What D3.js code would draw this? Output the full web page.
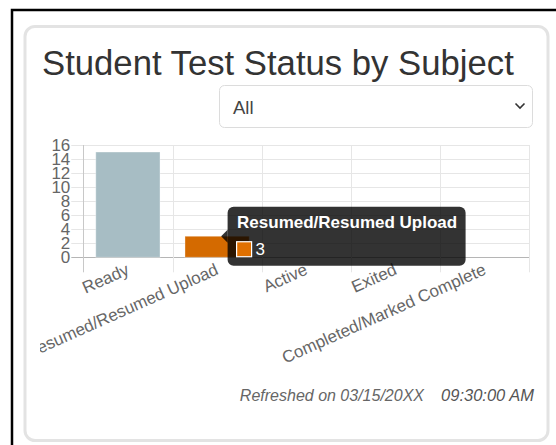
<!DOCTYPE html>
<html>
<head>
<meta charset="utf-8">
<script src="https://cdn.jsdelivr.net/npm/d3@7"></script>
<style>
  html, body { margin: 0; padding: 0; background: #fff; overflow: hidden; }
  svg { display: block; font-family: "Liberation Sans", Arial, Helvetica, sans-serif; }
</style>
</head>
<body>
<svg id="chart" width="556" height="445"></svg>
<script>
// Test status counts per category
const categories = ["Ready", "Resumed/Resumed Upload", "Active", "Exited", "Completed/Marked Complete"];
const counts = [15, 3, 0, 0, 0];
const barColors = ["#a7bdc4", "#d46a00", "#5b9bd5", "#8c8c8c", "#4caf50"];
const yTicks = [0, 2, 4, 6, 8, 10, 12, 14, 16];
const filterOptions = ["All"];
const refreshedDate = "03/15/20XX";
const refreshedTime = "09:30:00 AM";
const hoveredIndex = 1;

const svg = d3.select("#chart");

// Outer frame (top and left edges visible)
svg.append("rect")
  .attr("x", 12).attr("y", 10).attr("width", 600).attr("height", 500)
  .attr("fill", "none").attr("stroke", "#000").attr("stroke-width", 2.5);

// Card
svg.append("rect")
  .attr("x", 25).attr("y", 26.5).attr("width", 523).attr("height", 414)
  .attr("rx", 10).attr("fill", "#fff")
  .attr("stroke", "#e3e3e3").attr("stroke-width", 3);

// Title
svg.append("text")
  .attr("x", 42).attr("y", 74.5)
  .attr("fill", "#333").attr("font-size", 34.7)
  .text("Student Test Status by Subject");

// Filter select
const sel = svg.append("g");
sel.append("rect")
  .attr("x", 219.5).attr("y", 85.5).attr("width", 313).attr("height", 42)
  .attr("rx", 5).attr("fill", "#fff").attr("stroke", "#dcdcdc").attr("stroke-width", 1);
sel.append("text")
  .attr("x", 233).attr("y", 113.5)
  .attr("fill", "#444").attr("font-size", 18.5)
  .text(filterOptions[0]);
sel.append("path")
  .attr("d", "M515.5,103.5 L520,108 L524.5,103.5")
  .attr("fill", "none").attr("stroke", "#333").attr("stroke-width", 1.6);

// Chart area
const plot = { left: 83.3, right: 529.3, top: 145, bottom: 257.3 };
const x = d3.scaleBand().domain(categories).range([plot.left, plot.right]);
const xBar = d3.scaleBand().domain(categories).range([plot.left, plot.right])
  .paddingInner(0.28).paddingOuter(0.14);
const y = d3.scaleLinear().domain([0, 16]).range([plot.bottom, plot.top]);

const clip = svg.append("clipPath").attr("id", "canvasClip");
clip.append("rect").attr("x", 40).attr("y", 135).attr("width", 500).attr("height", 250);
const chart = svg.append("g").attr("clip-path", "url(#canvasClip)");

// Horizontal grid lines with tick marks
chart.append("g").selectAll("line").data(yTicks).join("line")
  .attr("x1", plot.left - 12).attr("x2", plot.right)
  .attr("y1", d => Math.round(y(d)) + 0.5).attr("y2", d => Math.round(y(d)) + 0.5)
  .attr("stroke", d => d === 0 ? "#b5b5b5" : "#e6e6e6").attr("stroke-width", 1);

// Vertical grid lines at category boundaries
const edges = categories.map(c => x(c)).concat([plot.right]);
chart.append("g").selectAll("line").data(edges).join("line")
  .attr("x1", d => Math.round(d) + 0.5).attr("x2", d => Math.round(d) + 0.5)
  .attr("y1", plot.top).attr("y2", plot.bottom + 15)
  .attr("stroke", (d, i) => i === 0 ? "#c8c8c8" : "#e6e6e6").attr("stroke-width", 1);

// Y tick labels
chart.append("g").selectAll("text").data(yTicks).join("text")
  .attr("x", plot.left - 13).attr("y", d => y(d))
  .attr("dy", "0.35em").attr("text-anchor", "end")
  .attr("fill", "#666").attr("font-size", 17)
  .text(d => d);

// Bars
chart.append("g").selectAll("rect").data(categories).join("rect")
  .attr("x", d => xBar(d)).attr("width", xBar.bandwidth())
  .attr("y", (d, i) => y(counts[i]))
  .attr("height", (d, i) => y(0) - y(counts[i]))
  .attr("fill", (d, i) => barColors[i])
  .attr("stroke", (d, i) => counts[i] > 0 ? "rgba(255,255,255,0.35)" : "none")
  .attr("stroke-width", 1);

// Rotated category labels
chart.append("g").selectAll("text").data(categories).join("text")
  .attr("transform", d => `translate(${x(d) + x.bandwidth() / 2},${plot.bottom + 11}) rotate(-24)`)
  .attr("text-anchor", "end").attr("dy", "0.35em")
  .attr("fill", "#666").attr("font-size", 17)
  .text(d => d);

// Tooltip for the hovered bar
const tipCat = categories[hoveredIndex];
const tipX = x(tipCat) + x.bandwidth() / 2 + 4;
const tipY = y(counts[hoveredIndex]);
const boxX = tipX + 6.5, boxW = 238, boxH = 59, boxY = tipY - boxH / 2;
const tip = svg.append("g");
tip.append("path")
  .attr("d", `M${tipX},${tipY} L${boxX},${tipY - 6.5} L${boxX},${tipY + 6.5} Z`)
  .attr("fill", "rgba(0,0,0,0.8)");
tip.append("rect")
  .attr("x", boxX).attr("y", boxY).attr("width", boxW).attr("height", boxH)
  .attr("rx", 6).attr("fill", "rgba(0,0,0,0.8)");
tip.append("text")
  .attr("x", boxX + 9.5).attr("y", boxY + 21)
  .attr("fill", "#fff").attr("font-weight", "bold").attr("font-size", 17)
  .text(tipCat);
tip.append("rect")
  .attr("x", boxX + 9).attr("y", boxY + 35).attr("width", 15).attr("height", 15)
  .attr("fill", "#e07000").attr("stroke", "#fff").attr("stroke-width", 1.2);
tip.append("text")
  .attr("x", boxX + 28).attr("y", boxY + 48.5)
  .attr("fill", "#fff").attr("font-size", 17)
  .text(counts[hoveredIndex]);

// Refresh stamp
svg.append("text")
  .attr("x", 424).attr("y", 401).attr("text-anchor", "end")
  .attr("fill", "#666").attr("font-size", 16).attr("font-style", "italic")
  .text("Refreshed on " + refreshedDate);
svg.append("text")
  .attr("x", 534).attr("y", 401).attr("text-anchor", "end")
  .attr("fill", "#555").attr("font-size", 16.5).attr("font-style", "italic")
  .text(refreshedTime);
</script>
</body>
</html>
